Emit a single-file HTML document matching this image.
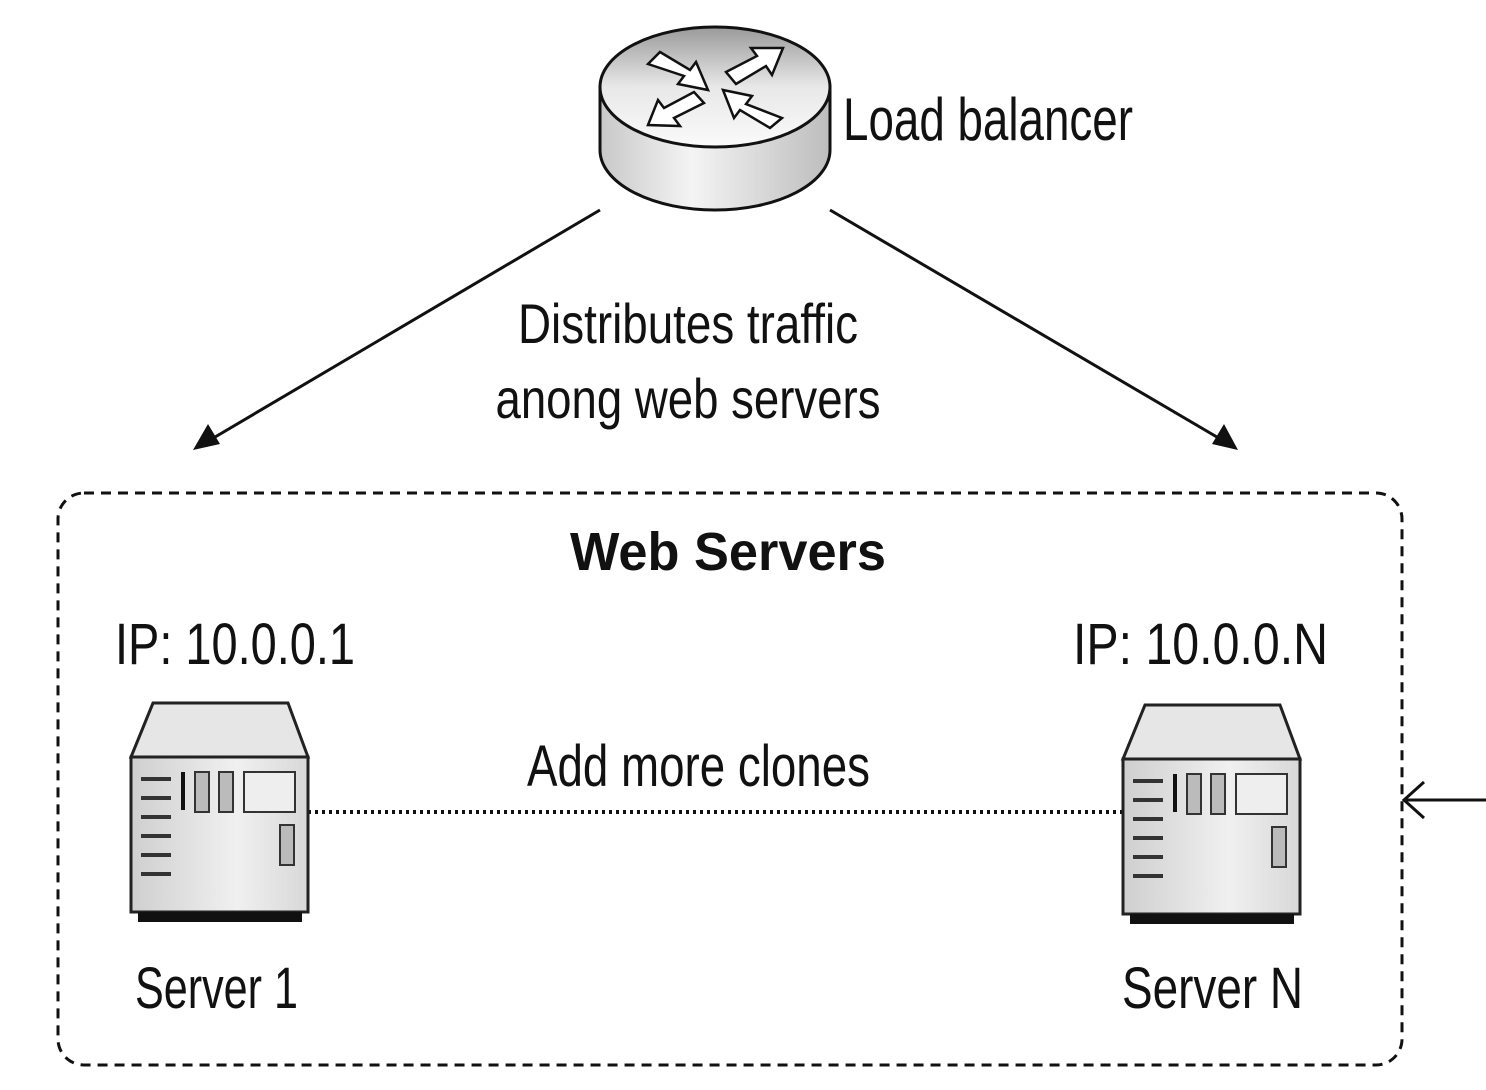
<!DOCTYPE html>
<html><head><meta charset="utf-8"><style>
html,body{margin:0;padding:0;background:#fff;}
svg{display:block}
text{font-family:"Liberation Sans Narrow","Liberation Sans",sans-serif;fill:#111;}
</style></head><body>
<svg width="1486" height="1090" viewBox="0 0 1486 1090" xmlns="http://www.w3.org/2000/svg">
<defs>
<linearGradient id="rt" x1="0" y1="0" x2="0" y2="1">
<stop offset="0" stop-color="#9a9a9a"/><stop offset="0.5" stop-color="#e8e8e8"/><stop offset="1" stop-color="#fafafa"/>
</linearGradient>
<linearGradient id="rs" x1="0" y1="0" x2="1" y2="0">
<stop offset="0" stop-color="#c8c8c8"/><stop offset="0.4" stop-color="#f4f4f4"/><stop offset="1" stop-color="#bdbdbd"/>
</linearGradient>
<linearGradient id="sb" x1="0" y1="0" x2="1" y2="0">
<stop offset="0" stop-color="#cfcfcf"/><stop offset="0.6" stop-color="#f0f0f0"/><stop offset="1" stop-color="#d8d8d8"/>
</linearGradient>
<g id="srv">
<polygon points="22,0 157,0 177,54 0,54" fill="#e6e6e6" stroke="#222" stroke-width="3"/>
<rect x="0" y="54" width="177" height="155" fill="url(#sb)" stroke="#222" stroke-width="3"/>
<rect x="7" y="209" width="164" height="10" fill="#111"/>
<g stroke="#333" stroke-width="4">
<line x1="10" y1="76" x2="40" y2="76"/><line x1="10" y1="95" x2="40" y2="95"/><line x1="10" y1="114" x2="40" y2="114"/>
<line x1="10" y1="133" x2="40" y2="133"/><line x1="10" y1="152" x2="40" y2="152"/><line x1="10" y1="171" x2="40" y2="171"/>
</g>
<rect x="50" y="69" width="4" height="38" fill="#111"/>
<rect x="64" y="69" width="14" height="40" fill="#bbb" stroke="#333" stroke-width="2"/>
<rect x="88" y="69" width="14" height="40" fill="#bbb" stroke="#333" stroke-width="2"/>
<rect x="113" y="69" width="51" height="40" fill="#eee" stroke="#333" stroke-width="2"/>
<rect x="149" y="122" width="14" height="40" fill="#bbb" stroke="#333" stroke-width="2"/>
</g>
</defs>

<!-- router -->
<path d="M600,87 L600,150 A115,60 0 0 0 830,150 L830,87 Z" fill="url(#rs)" stroke="#111" stroke-width="3"/>
<ellipse cx="715" cy="87" rx="115" ry="60" fill="url(#rt)" stroke="#111" stroke-width="3"/>
<g fill="#fff" stroke="#111" stroke-width="2.5">
<polygon points="648,64 660,52 690,70 696,62 708,90 678,84 684,76"/>
<polygon points="783,48 772,75 766,66 736,84 726,72 757,56 751,48"/>
<polygon points="648,125 658,100 664,108 694,92 704,103 674,118 680,126"/>
<polygon points="782,118 770,128 740,110 734,118 723,90 752,96 746,104"/>
</g>
<text x="843" y="140" font-size="60" textLength="290" lengthAdjust="spacingAndGlyphs">Load balancer</text>

<!-- arrows -->
<g stroke="#111" stroke-width="3">
<line x1="600" y1="210" x2="210" y2="440"/>
<line x1="830" y1="210" x2="1222" y2="440"/>
</g>
<polygon points="193,450 208,424 220,444" fill="#111"/>
<polygon points="1238,450 1212,444 1224,424" fill="#111"/>

<text x="688" y="343" font-size="56" text-anchor="middle" textLength="340" lengthAdjust="spacingAndGlyphs">Distributes traffic</text>
<text x="688" y="418" font-size="56" text-anchor="middle" textLength="385" lengthAdjust="spacingAndGlyphs">anong web servers</text>

<!-- dashed box -->
<rect x="58" y="493" width="1344" height="572" rx="26" fill="none" stroke="#111" stroke-width="3" stroke-dasharray="10,7"/>
<text x="728" y="570" font-size="54" font-weight="bold" text-anchor="middle" textLength="316" lengthAdjust="spacingAndGlyphs" style="font-family:'Liberation Sans',sans-serif">Web Servers</text>

<text x="115" y="664" font-size="58" textLength="240" lengthAdjust="spacingAndGlyphs">IP: 10.0.0.1</text>
<text x="1073" y="664" font-size="58" textLength="255" lengthAdjust="spacingAndGlyphs">IP: 10.0.0.N</text>
<text x="527" y="786" font-size="58" textLength="343" lengthAdjust="spacingAndGlyphs">Add more clones</text>

<line x1="308" y1="812" x2="1123" y2="812" stroke="#111" stroke-width="4" stroke-dasharray="3,4"/>

<use href="#srv" x="131" y="703"/>
<use href="#srv" x="1123" y="705"/>

<text x="135" y="1008" font-size="58" textLength="163" lengthAdjust="spacingAndGlyphs">Server 1</text>
<text x="1122" y="1008" font-size="58" textLength="181" lengthAdjust="spacingAndGlyphs">Server N</text>

<!-- right arrow -->
<line x1="1486" y1="800" x2="1404" y2="800" stroke="#111" stroke-width="3"/>
<polyline points="1424,782 1404,800 1424,818" fill="none" stroke="#111" stroke-width="3"/>
</svg>
</body></html>
